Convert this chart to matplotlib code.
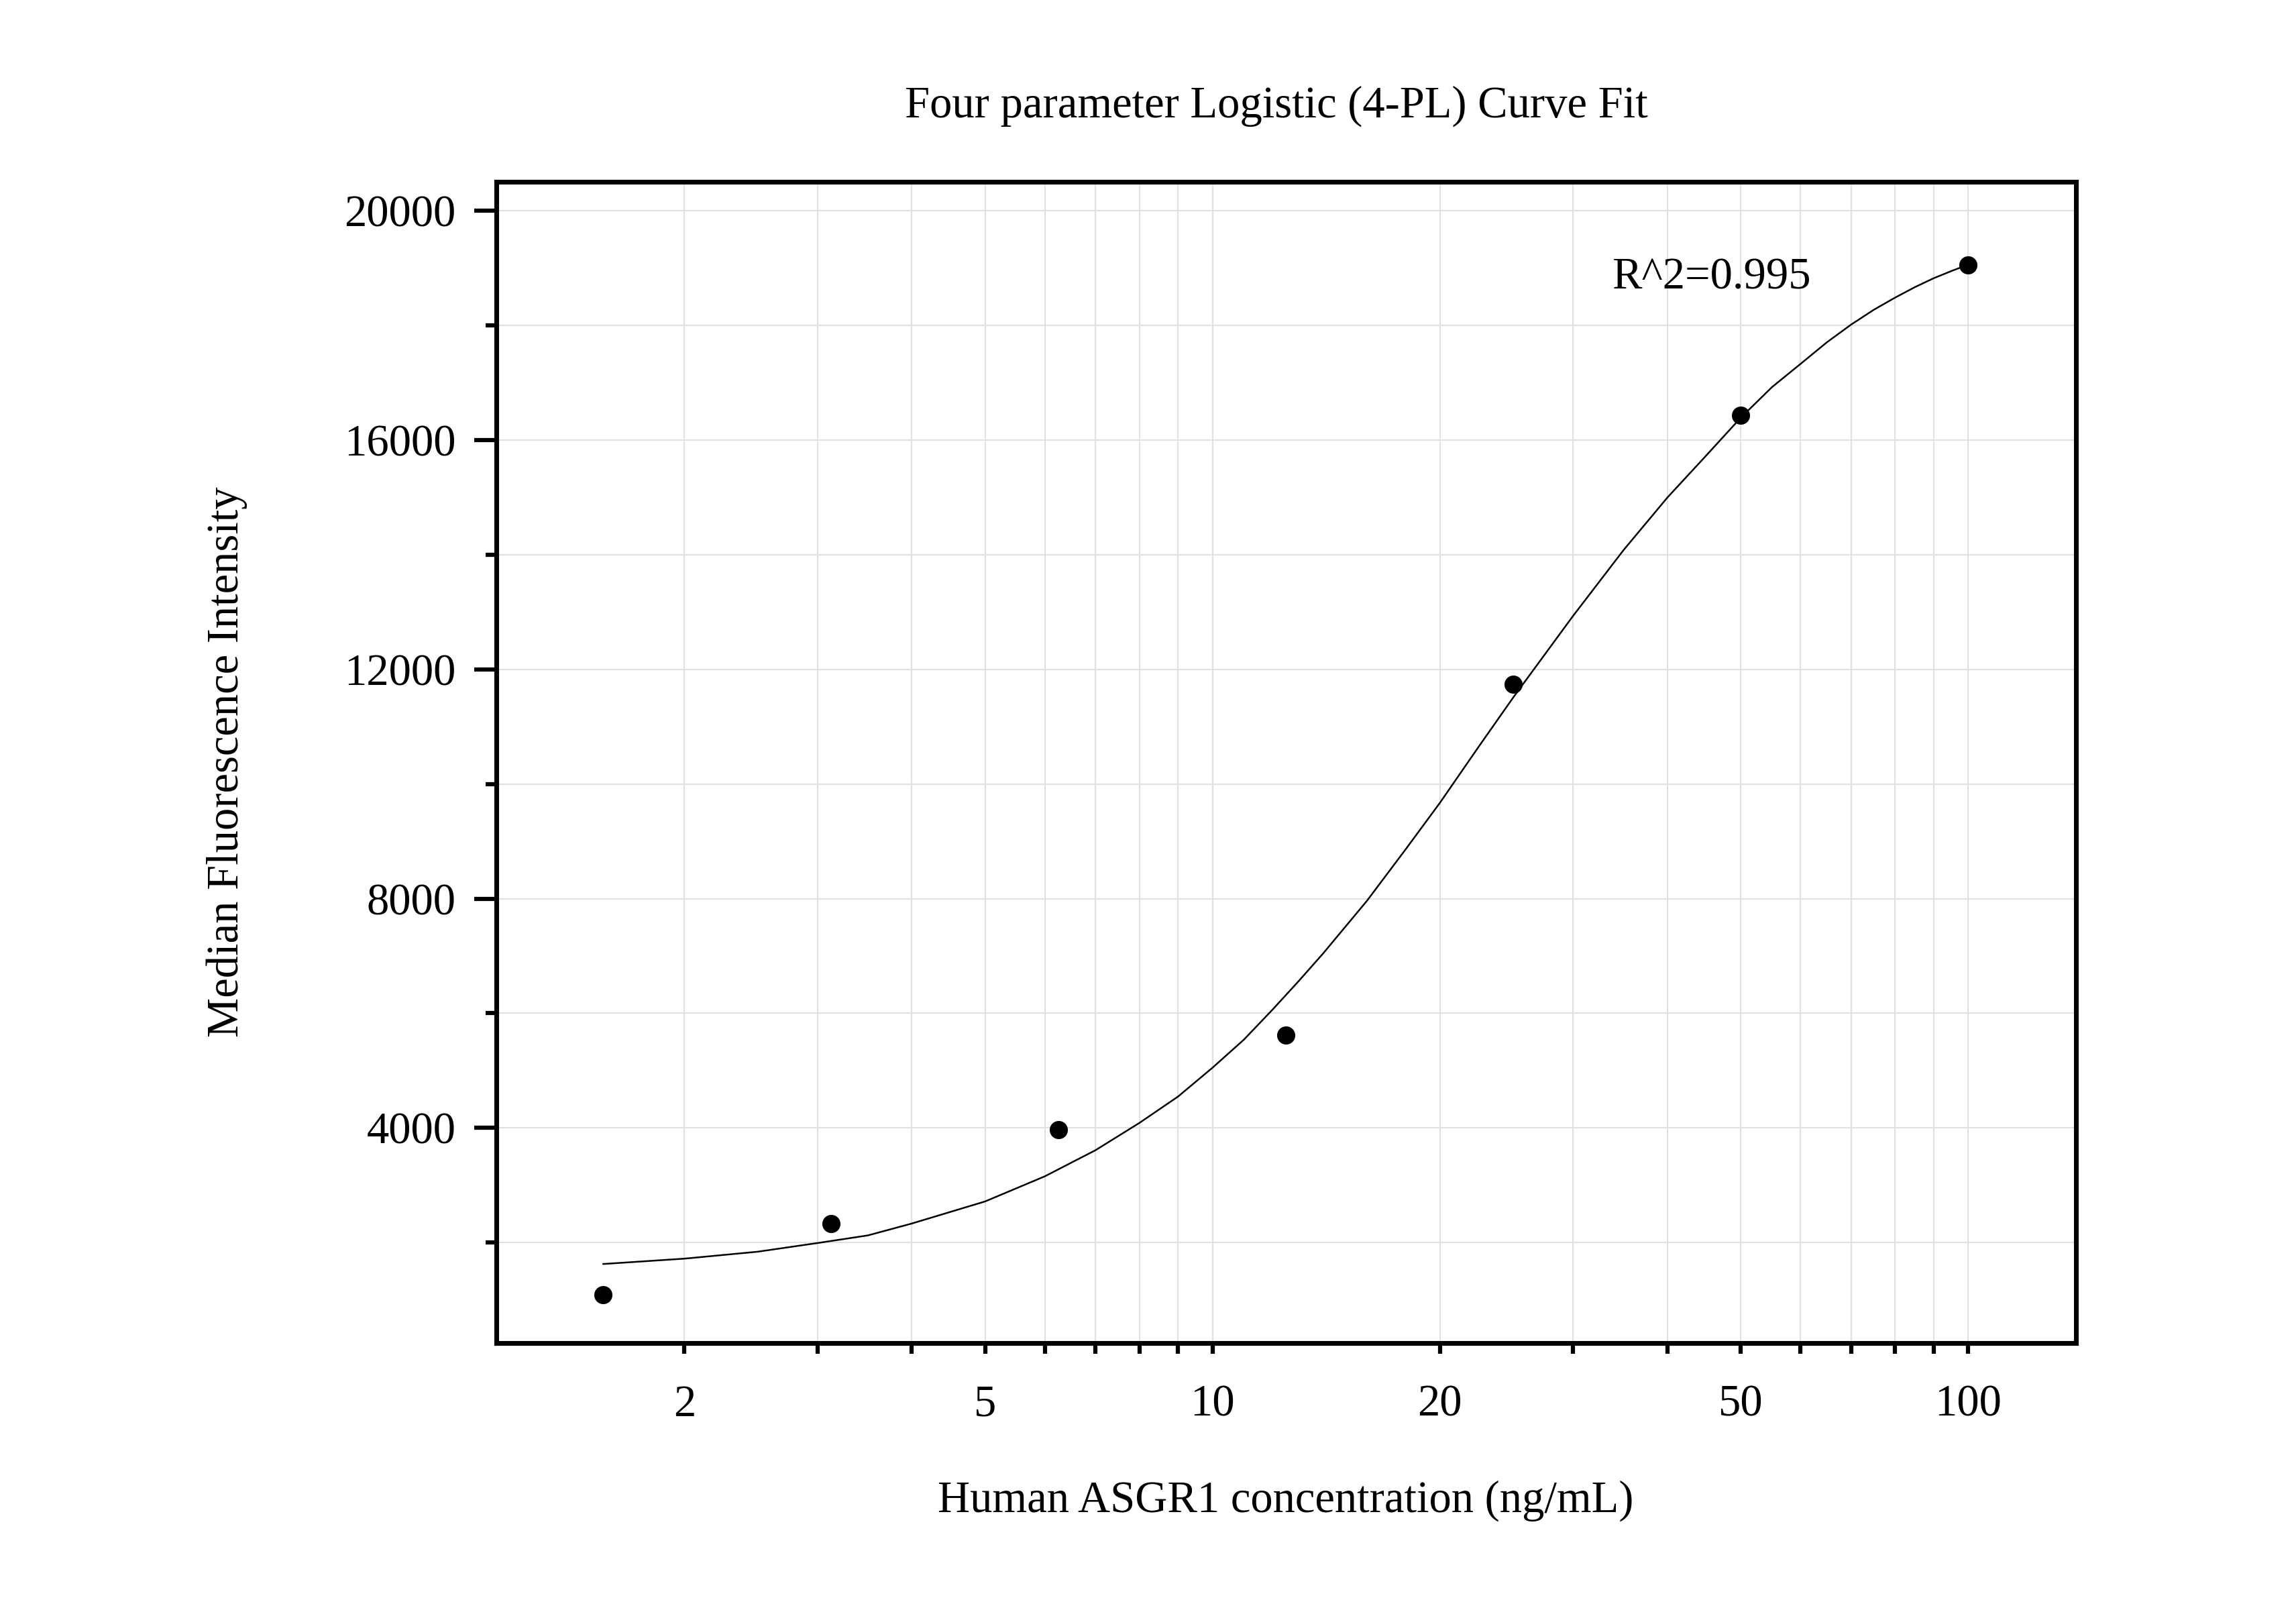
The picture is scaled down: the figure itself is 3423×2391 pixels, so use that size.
import numpy as np
import matplotlib
matplotlib.use("Agg")
import matplotlib.pyplot as plt
from matplotlib.ticker import FixedLocator, FixedFormatter, NullLocator

plt.rcParams['font.family'] = ['Liberation Serif', 'DejaVu Serif']

# measured points (ng/mL, MFI)
conc = [1.5625, 3.125, 6.25, 12.5, 25, 50, 100]
mfi = [1090, 2330, 3970, 5620, 11745, 16435, 19060]

# 4-PL fit curve
fit_x = [1.5625, 2, 2.5, 3, 3.5, 4, 5, 6, 7, 8, 9, 10, 11, 12, 13, 14, 16,
         18, 20, 22.5, 25, 30, 35, 40, 45, 50, 55, 60, 65, 70, 75, 80, 85,
         90, 95, 100]
fit_y = [1625, 1718, 1839, 1990, 2124, 2331, 2716, 3155, 3610, 4085, 4545,
         5050, 5538, 6060, 6560, 7040, 7958, 8855, 9674, 10650, 11510,
         12933, 14084, 15000, 15730, 16390, 16925, 17330, 17706, 18016,
         18274, 18485, 18669, 18824, 18950, 19062]

x_ticks = [2, 3, 4, 5, 6, 7, 8, 9, 10, 20, 30, 40, 50, 60, 70, 80, 90, 100]
x_labels = ['2', '', '', '5', '', '', '', '', '10', '20', '', '', '50',
            '', '', '', '', '100']
y_major = [4000, 8000, 12000, 16000, 20000]
y_minor = [2000, 6000, 10000, 14000, 18000]

fig = plt.figure(figsize=(3423/300, 2391/300), dpi=300)
ax = fig.add_axes([0.2162, 0.1626, 0.6881, 0.7242])

ax.plot(fit_x, fit_y, color='black', lw=0.6, zorder=3)
ax.plot(conc, mfi, 'o', color='black', ms=5.5, zorder=4)

ax.set_xscale('log')
ax.set_xlim(1.128, 139)
ax.set_ylim(243, 20511)

ax.xaxis.set_major_locator(FixedLocator(x_ticks))
ax.xaxis.set_major_formatter(FixedFormatter(x_labels))
ax.xaxis.set_minor_locator(NullLocator())
ax.yaxis.set_major_locator(FixedLocator(y_major))
ax.yaxis.set_minor_locator(FixedLocator(y_minor))
ax.yaxis.set_major_formatter(FixedFormatter([str(v) for v in y_major]))

ax.grid(True, which='both', color='#e1e1e1', lw=0.5, zorder=0)
ax.set_axisbelow(True)

for s in ax.spines.values():
    s.set_linewidth(1.7)

ax.tick_params(axis='x', which='major', length=3.8, width=1.5, pad=11,
               labelsize=16, direction='out')
ax.tick_params(axis='y', which='major', length=8, width=1.5, pad=6.5,
               labelsize=16, direction='out')
ax.tick_params(axis='y', which='minor', length=3.8, width=1.5, direction='out')

fig.text(0.556, 0.934, 'Four parameter Logistic (4-PL) Curve Fit',
         ha='center', va='center', fontsize=16)
fig.text(0.56, 0.0642, 'Human ASGR1 concentration (ng/mL)',
         ha='center', va='center', fontsize=16)
fig.text(0.0988, 0.525, 'Median Fluorescence Intensity',
         ha='center', va='center', rotation=90, fontsize=16)
ax.text(0.706, 0.917, 'R^2=0.995', transform=ax.transAxes,
        ha='left', va='center', fontsize=16)

fig.savefig('out.png', dpi=300)
